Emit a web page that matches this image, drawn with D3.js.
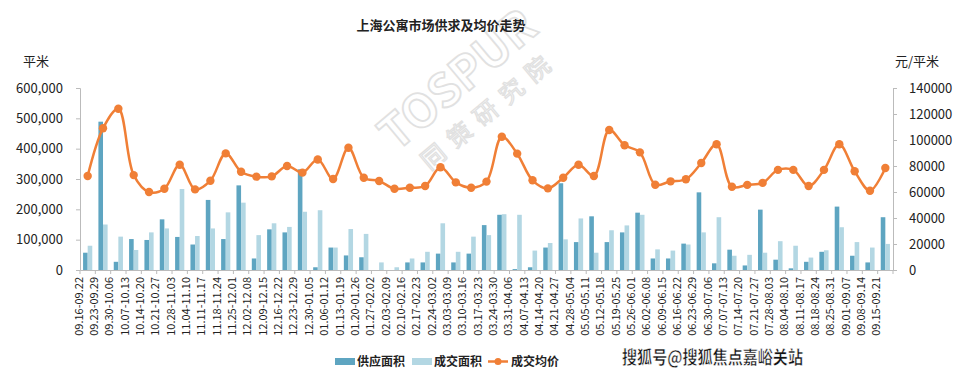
<!DOCTYPE html>
<html><head><meta charset="utf-8">
<script src="https://cdn.jsdelivr.net/npm/d3@7"></script>
<style>
body{margin:0;background:#fff;}
text{font-family:"Noto Sans CJK SC","Noto Sans",sans-serif;}
</style></head><body>
<svg id="c" width="960" height="379"></svg>
<script>
const categories=["09.16-09.22","09.23-09.29","09.30-10.06","10.07-10.13","10.14-10.20","10.21-10.27","10.28-11.03","11.04-11.10","11.11-11.17","11.18-11.24","11.25-12.01","12.02-12.08","12.09-12.15","12.16-12.22","12.23-12.29","12.30-01.05","01.06-01.12","01.13-01.19","01.20-01.26","01.27-02.02","02.03-02.09","02.10-02.16","02.17-02.23","02.24-03.02","03.03-03.09","03.10-03.16","03.17-03.23","03.24-03.30","03.31-04.06","04.07-04.13","04.14-04.20","04.21-04.27","04.28-05.04","05.05-05.11","05.12-05.18","05.19-05.25","05.26-06.01","06.02-06.08","06.09-06.15","06.16-06.22","06.23-06.29","06.30-07.06","07.07-07.13","07.14-07.20","07.21-07.27","07.28-08.03","08.04-08.10","08.11-08.17","08.18-08.24","08.25-08.31","09.01-09.07","09.08-09.14","09.15-09.21"];
const supply=[57000,489000,27000,102000,99000,167000,109000,84000,231000,102000,279000,38000,134000,124000,332000,9000,74000,48000,42000,0,0,25000,25000,54000,25000,54000,148000,182000,3000,9000,74000,286000,92000,177000,92000,124000,189000,38000,38000,87000,256000,22000,67000,15000,199000,34000,5500,27000,60000,209000,47000,25000,174000];
const deal=[80000,150000,110000,66000,124000,137000,267000,112000,137000,190000,222000,115000,154000,142000,192000,197000,74000,135000,119000,25000,9000,38000,60000,154000,60000,110000,115000,184000,182000,64000,89000,101000,170000,57000,131000,147000,182000,68000,64000,84000,124000,174000,47000,50000,57000,95000,80000,41000,65000,141000,92000,74000,86000];
const price=[72300,109000,124000,73000,60000,62500,81000,62000,68700,89700,75600,71800,72000,80000,74900,85000,70000,94000,71000,68500,62500,63300,64600,79000,67400,63300,68000,102500,89500,69000,62800,71000,81000,72300,107700,96000,90500,65600,68200,69800,82300,96700,64000,65500,67000,77000,77000,64600,77000,96700,76000,61000,78500];
const leftTicks=[0,100000,200000,300000,400000,500000,600000];
const rightTicks=[0,20000,40000,60000,80000,100000,120000,140000];
const seriesNames=["供应面积","成交面积","成交均价"];
const title="上海公寓市场供求及均价走势";

const svg=d3.select("#c");
const L=80,R=893,T=88,B=270;
const x=d3.scaleBand().domain(categories).range([L,R]);
const yL=d3.scaleLinear().domain([0,600000]).range([B,T]);
const yR=d3.scaleLinear().domain([0,140000]).range([B,T]);
const cDark="#5ea5c1",cLight="#b3d7e3",cOr="#f07f36";

// watermark
const wm=svg.append("g").attr("transform","translate(468,92) rotate(-40)").attr("opacity",0.5);
wm.append("text").attr("x",0).attr("y",0).attr("text-anchor","middle").attr("font-size",46).attr("font-weight","bold")
 .attr("font-family","DejaVu Sans, sans-serif").attr("fill","#fff").attr("stroke","#c4c4c4").attr("stroke-width",1.8).text("TOSPUR");
wm.append("text").attr("x",5).attr("y",36).attr("text-anchor","middle").attr("font-size",24).attr("letter-spacing",10)
 .attr("fill","#fff").attr("stroke","#c4c4c4").attr("stroke-width",1.3).text("同策研究院");

svg.append("text").attr("x",441).attr("y",30).attr("text-anchor","middle").attr("font-size",13).attr("font-weight","bold").attr("fill","#222").text(title);
svg.append("text").attr("x",23).attr("y",66).attr("font-size",13).attr("fill","#222").text("平米");
svg.append("text").attr("x",895).attr("y",66).attr("font-size",13).attr("fill","#222").text("元/平米");

// axes
const axL=svg.append("g").attr("transform",`translate(${L},0)`).call(d3.axisLeft(yL).tickValues(leftTicks).tickFormat(d3.format(",")).tickSize(4).tickPadding(13));
const axR=svg.append("g").attr("transform",`translate(${R},0)`).call(d3.axisRight(yR).tickValues(rightTicks).tickFormat(d3.format("d")).tickSize(4).tickPadding(12));
const axB=svg.append("g").attr("transform",`translate(0,${B})`).call(d3.axisBottom(x).tickSizeOuter(0).tickSize(0));
[axL,axR].forEach(a=>{a.select(".domain").attr("stroke","#bbb");a.selectAll(".tick line").attr("stroke","#bbb");
 a.selectAll("text").attr("font-size",13).attr("fill","#222").attr("font-family","Open Sans, Noto Sans, sans-serif");});
axB.select(".domain").attr("stroke","#bbb");
axB.selectAll(".tick text").attr("font-size",11).attr("fill","#222").attr("font-family","Liberation Sans, sans-serif")
 .attr("transform","rotate(-90)").attr("text-anchor","end").attr("dx","-7").attr("dy","-0.45em").attr("y",0).attr("x",0);
// band boundary ticks
svg.append("g").selectAll("line").data(categories.concat(["_end"])).join("line")
 .attr("x1",(d,i)=>L+i*x.bandwidth()).attr("x2",(d,i)=>L+i*x.bandwidth()).attr("y1",B).attr("y2",B+4).attr("stroke","#bbb");

const bw=4.6;
svg.append("g").selectAll("rect").data(supply).join("rect")
 .attr("x",(d,i)=>x(categories[i])+x.bandwidth()/2-bw).attr("width",bw)
 .attr("y",d=>yL(d)).attr("height",d=>B-yL(d)).attr("fill",cDark);
svg.append("g").selectAll("rect").data(deal).join("rect")
 .attr("x",(d,i)=>x(categories[i])+x.bandwidth()/2).attr("width",bw)
 .attr("y",d=>yL(d)).attr("height",d=>B-yL(d)).attr("fill",cLight);

const cx=i=>x(categories[i])+x.bandwidth()/2;
const line=d3.line().x((d,i)=>cx(i)).y(d=>yR(d)).curve(d3.curveCatmullRom.alpha(0.5));
svg.append("path").datum(price).attr("d",line).attr("fill","none").attr("stroke",cOr).attr("stroke-width",2.5);
svg.append("g").selectAll("circle").data(price).join("circle").attr("cx",(d,i)=>cx(i)).attr("cy",d=>yR(d)).attr("r",4.2).attr("fill",cOr);

// legend
const lg=svg.append("g");
lg.append("rect").attr("x",335).attr("y",358).attr("width",20).attr("height",7).attr("fill",cDark);
lg.append("text").attr("x",357).attr("y",366).attr("font-size",12).attr("font-weight","bold").attr("fill","#222").text(seriesNames[0]);
lg.append("rect").attr("x",412).attr("y",358).attr("width",20).attr("height",7).attr("fill",cLight);
lg.append("text").attr("x",434).attr("y",366).attr("font-size",12).attr("font-weight","bold").attr("fill","#222").text(seriesNames[1]);
lg.append("line").attr("x1",488).attr("x2",508).attr("y1",361.5).attr("y2",361.5).attr("stroke",cOr).attr("stroke-width",2.5);
lg.append("circle").attr("cx",498).attr("cy",361.5).attr("r",3.5).attr("fill",cOr);
lg.append("text").attr("x",511).attr("y",366).attr("font-size",12).attr("font-weight","bold").attr("fill","#222").text(seriesNames[2]);

svg.append("text").attr("x",622).attr("y",364).attr("font-size",18).attr("font-weight","bold").attr("fill","#111")
 .attr("textLength",181).attr("lengthAdjust","spacingAndGlyphs")
 .attr("stroke","#fff").attr("stroke-width",0.5).text("搜狐号@搜狐焦点嘉峪关站");
</script></body></html>
